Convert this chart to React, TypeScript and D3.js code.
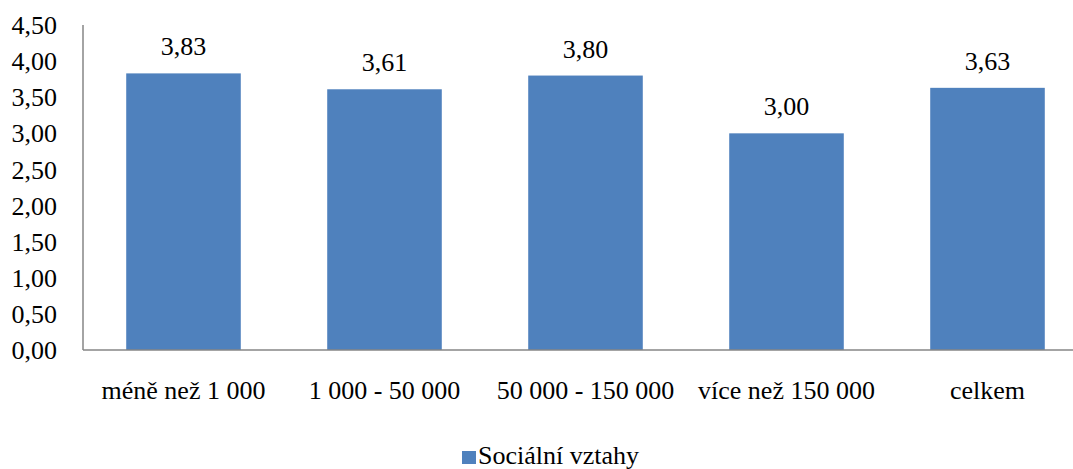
import React from "react";
import * as d3 from "d3";

const categories = ["méně než 1 000", "1 000 - 50 000", "50 000 - 150 000", "více než 150 000", "celkem"];
const values = [3.83, 3.61, 3.8, 3.0, 3.63];
const yTicks = [0, 0.5, 1, 1.5, 2, 2.5, 3, 3.5, 4, 4.5];
const seriesName = "Sociální vztahy";

const W = 1073;
const H = 469;
const FONT = "'Times New Roman', Times, 'DejaVu Serif', serif";
const BAR = "#4F81BD";
const AXIS = "#868686";

const fmt = (v: number) => v.toFixed(2).replace(".", ",");

export default function App() {
  const x = d3.scaleBand<string>().domain(categories).range([83, 1088]).paddingInner(0.43).paddingOuter(0.215);
  const y = d3.scaleLinear().domain([0, 4.5]).range([350, 25]);
  const y0 = y(0);
  const textStyle = { fontFamily: FONT, fontSize: "26px" };

  return (
    <svg width={W} height={H} style={{ position: "absolute", left: 0, top: 0 }}>
      <rect width={W} height={H} fill="#fff" />
      {/* bars */}
      {categories.map((c, i) => (
        <rect key={c} x={x(c)} y={y(values[i])} width={x.bandwidth()} height={y0 - y(values[i])} fill={BAR} />
      ))}
      {/* value labels */}
      {categories.map((c, i) => (
        <text key={c} x={(x(c) as number) + x.bandwidth() / 2} y={y(values[i]) - 18} textAnchor="middle" style={textStyle} fill="#000">
          {fmt(values[i])}
        </text>
      ))}
      {/* axes */}
      <line x1={83} x2={W} y1={y0} y2={y0} stroke={AXIS} strokeWidth={1.5} />
      <line x1={83} x2={83} y1={y(4.5)} y2={y0} stroke={AXIS} strokeWidth={1.5} />
      {yTicks.map((t) => (
        <text key={t} x={57} y={y(t)} dy="0.35em" textAnchor="end" style={textStyle} fill="#000">
          {fmt(t)}
        </text>
      ))}
      {categories.map((c) => (
        <text key={c} x={(x(c) as number) + x.bandwidth() / 2} y={399} textAnchor="middle" style={textStyle} fill="#000">
          {c}
        </text>
      ))}
      {/* legend */}
      <rect x={462} y={451} width={14} height={13} fill={BAR} />
      <text x={478} y={464} style={textStyle} fill="#000">{seriesName}</text>
    </svg>
  );
}
